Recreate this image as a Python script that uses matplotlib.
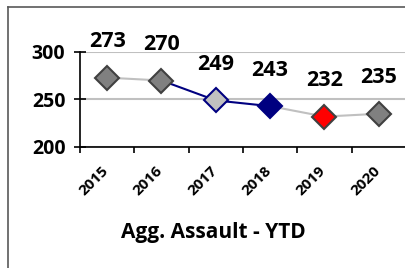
import matplotlib
matplotlib.use("Agg")
import matplotlib.pyplot as plt
import matplotlib.transforms as mtransforms
from matplotlib.lines import Line2D

years = ["2015", "2016", "2017", "2018", "2019", "2020"]
values = [273, 270, 249, 243, 232, 235]
title = "Agg. Assault - YTD"

seg_colors = ["#c0c0c0", "#000080", "#000080", "#c0c0c0", "#c0c0c0"]
face_colors = ["#808080", "#808080", "#c0c0c0", "#000080", "#ff0000", "#808080"]
edge_colors = ["#404040", "#404040", "#000080", "#000080", "#404040", "#404040"]

plt.rcParams['font.family'] = ['Open Sans', 'DejaVu Sans']
BOLD = ['Open Sans', 'DejaVu Sans']

fig = plt.figure(figsize=(4.06, 2.68), dpi=100)
ax = fig.add_axes([80/406, 1-147/268, 1-80/406, 95/268])

x = list(range(len(years)))
for i in range(len(x)-1):
    ax.plot(x[i:i+2], values[i:i+2], color=seg_colors[i], lw=1.5, zorder=2)
for i in range(len(x)):
    ax.plot(x[i], values[i], marker='D', ms=12.5, mfc=face_colors[i],
            mec=edge_colors[i], mew=1.5, ls='none', zorder=3)
    ax.annotate(str(values[i]), (x[i], values[i]), xytext=(0, 26),
                textcoords='offset points', ha='center', va='center',
                fontsize=15.5, fontweight='bold', family=BOLD,
                annotation_clip=False)

ax.set_xlim(-0.5, len(years)-0.5)
ax.set_ylim(200, 300)
ax.set_yticks([200, 250, 300])
ax.tick_params(axis='y', labelsize=14, length=9, width=1.2, pad=6,
               direction='inout')
for lab in ax.get_yticklabels():
    lab.set_fontweight('bold')
    lab.set_family(BOLD)
ax.set_xticks([i + 0.5 for i in range(-1, len(years))], minor=False)
ax.set_xticklabels([])
ax.set_xticks(x, minor=True)
ax.set_xticklabels(years, minor=True, rotation=45, ha='right',
                   rotation_mode='anchor', fontsize=11, fontweight='bold',
                   family=BOLD)
ax.tick_params(axis='x', which='major', length=4, width=1.2, direction='out')
ax.tick_params(axis='x', which='minor', length=0, pad=11)
shift = mtransforms.ScaledTranslation(-6/100, -1/100, fig.dpi_scale_trans)
for lab in ax.xaxis.get_minorticklabels():
    lab.set_transform(lab.get_transform() + shift)
ax.yaxis.grid(True, color='#c0c0c0', lw=1.5)
ax.set_axisbelow(True)
for s in ['top', 'right']:
    ax.spines[s].set_visible(False)
ax.spines['left'].set_linewidth(1.2)
ax.spines['bottom'].set_linewidth(1.2)

fig.text(213/406, 1-238/268, title, ha='center', va='baseline', fontsize=15,
         fontweight='bold', family=BOLD)

fig.add_artist(Line2D([8/406, 8/406], [0, 1-7/268], color='#595959', lw=1.2,
                      transform=fig.transFigure))
fig.add_artist(Line2D([8/406, 1], [1-7/268, 1-7/268], color='#595959', lw=1.2,
                      transform=fig.transFigure))

fig.savefig("out.png", dpi=100)
